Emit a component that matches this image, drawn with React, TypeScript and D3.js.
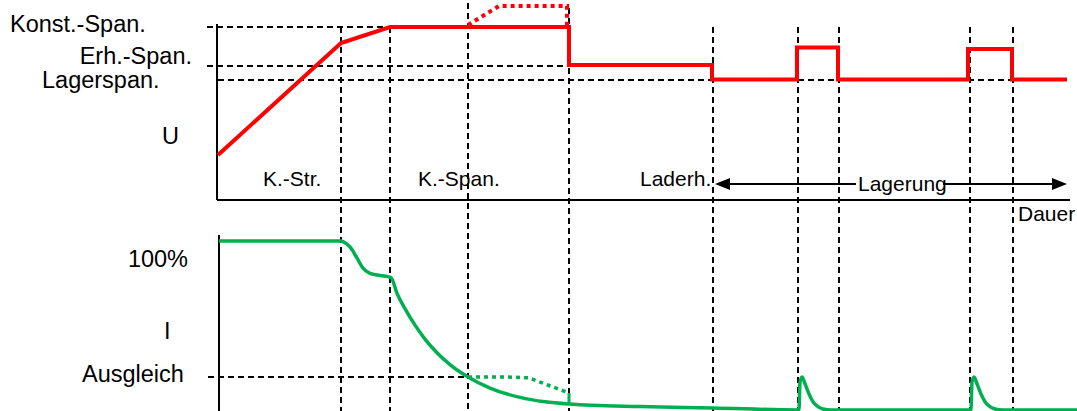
import React from "react";
import * as d3 from "d3";

// ---- data (time in arbitrary units, U and I in relative units) ----
const eventTimes = [124, 173, 251, 352, 496, 581, 622, 753, 796];

const uLevels = { konst: 86.5, erh: 67, lager: 60 };
const iAusgleich = 20;

const uSolidT = [1, 124, 173, 352, 352, 495, 495, 580, 580, 621, 621, 751, 751, 795, 795, 850];
const uSolidV = [22.5, 78.5, 86.5, 86.5, 67.5, 67.5, 60.3, 60.3, 76.3, 76.3, 60.3, 60.3, 75.5, 75.5, 60.3, 60.3];

const uDottedT = [251, 282, 350, 350];
const uDottedV = [87.5, 97, 97, 86.5];

const iSolidT = [2, 124, 126, 133, 140, 146, 153, 163, 174, 180, 188, 198, 208, 220, 233, 251, 273, 303, 328, 352, 423, 496, 581, 582, 583, 585, 588, 592, 596, 600, 606, 614, 753, 754, 755, 757, 760, 764, 768, 772, 778, 786, 860];
const iSolidV = [100, 100, 99.6, 96.5, 90, 84, 81, 79.7, 78.5, 69.2, 60.2, 50.5, 42.3, 34.3, 27.3, 20, 13.5, 8.0, 5.4, 4.1, 2.6, 1.8, 0.6, 0.6, 17, 20, 16, 10, 5.5, 3, 1.2, 0.6, 0.6, 0.6, 17, 20, 16, 10, 5.5, 3, 1.2, 0.6, 0.6];

const iDottedT = [251, 290, 312, 332, 352];
const iDottedV = [20, 20, 19.5, 15, 10.6];
const iTickT = [352, 352];
const iTickV = [4.1, 10.6];

const leftLabels = ["Konst.-Span.", "Erh.-Span.", "Lagerspan.", "U", "100%", "I", "Ausgleich"];
const phaseLabels = ["K.-Str.", "K.-Span.", "Laderh.", "Lagerung", "Dauer"];

const W = 1077, H = 411;
const RED = "#ff0000";
const GREEN = "#00b050";
const FONT = "'Liberation Sans', Arial, Helvetica, sans-serif";

export default function App() {
  const x = d3.scaleLinear().domain([0, 860]).range([217, 1077]);
  const yU = d3.scaleLinear().domain([0, 100]).range([200, 0]);
  const yI = d3.scaleLinear().domain([0, 100]).range([411, 241]);

  const lineU = d3.line<[number, number]>().x(d => x(d[0])).y(d => yU(d[1]));
  const lineI = d3.line<[number, number]>().x(d => x(d[0])).y(d => yI(d[1])).curve(d3.curveMonotoneX);
  const lineIlin = d3.line<[number, number]>().x(d => x(d[0])).y(d => yI(d[1]));

  const zip = (a: number[], b: number[]) => a.map((v, i) => [v, b[i]] as [number, number]);

  const dash = "6,4";
  const kY = yU(uLevels.konst);
  const tops = [kY, kY, 3, 8, kY, kY, kY, kY, kY];

  const fsL = 23.5;
  const fsP = 21;
  const arrowY = 184;
  const axL = x(0);
  return (
    <svg width={W} height={H} style={{ position: "absolute", left: 0, top: 0, background: "#fff" }} fontFamily={FONT}>
      {/* horizontal dashed reference lines */}
      <line x1={207} x2={x(352)} y1={kY} y2={kY} stroke="#000" strokeWidth={2} strokeDasharray={dash} />
      <line x1={207} x2={x(358)} y1={yU(uLevels.erh)} y2={yU(uLevels.erh)} stroke="#000" strokeWidth={2} strokeDasharray={dash} />
      <line x1={218} x2={x(808)} y1={yU(uLevels.lager)} y2={yU(uLevels.lager)} stroke="#000" strokeWidth={2} strokeDasharray={dash} />
      <line x1={208} x2={x(251)} y1={yI(iAusgleich)} y2={yI(iAusgleich)} stroke="#000" strokeWidth={2} strokeDasharray={dash} />

      {/* vertical dashed event lines */}
      {eventTimes.map((t, i) => (
        <line key={i} x1={x(t)} x2={x(t)} y1={tops[i]} y2={H} stroke="#000" strokeWidth={2} strokeDasharray={dash} />
      ))}

      {/* axes */}
      <line x1={axL} x2={axL} y1={24} y2={yU(0)} stroke="#000" strokeWidth={2} />
      <line x1={axL} x2={1070} y1={yU(0)} y2={yU(0)} stroke="#000" strokeWidth={2} />
      <line x1={219} x2={219} y1={235} y2={H} stroke="#000" strokeWidth={2} />

      {/* U curves */}
      <path d={lineU(zip(uDottedT, uDottedV)) || ""} fill="none" stroke={RED} strokeWidth={4} strokeDasharray="4,4" />
      <path d={lineU(zip(uSolidT, uSolidV)) || ""} fill="none" stroke={RED} strokeWidth={4} strokeLinejoin="miter" />

      {/* I curves */}
      <path d={lineIlin(zip(iDottedT, iDottedV)) || ""} fill="none" stroke={GREEN} strokeWidth={3.5} strokeDasharray="4,4" />
      <path d={lineIlin(zip(iTickT, iTickV)) || ""} fill="none" stroke={GREEN} strokeWidth={3} />
      <path d={lineI(zip(iSolidT, iSolidV)) || ""} fill="none" stroke={GREEN} strokeWidth={3.5} />

      {/* arrow Lagerung */}
      <line x1={x(496) + 12} x2={856} y1={arrowY} y2={arrowY} stroke="#000" strokeWidth={2} />
      <line x1={943} x2={1054} y1={arrowY} y2={arrowY} stroke="#000" strokeWidth={2} />
      <path d={`M${x(496) + 2},${arrowY} L${x(496) + 17},${arrowY - 6} L${x(496) + 17},${arrowY + 6} Z`} fill="#000" />
      <path d={`M1067,${arrowY} L1052,${arrowY - 6} L1052,${arrowY + 6} Z`} fill="#000" />

      {/* left labels */}
      <g fontSize={fsL} fill="#000">
        <text x={10} y={32}>{leftLabels[0]}</text>
        <text x={192} y={64} textAnchor="end">{leftLabels[1]}</text>
        <text x={42} y={88}>{leftLabels[2]}</text>
        <text x={162} y={144}>{leftLabels[3]}</text>
        <text x={188} y={267} textAnchor="end">{leftLabels[4]}</text>
        <text x={164} y={339}>{leftLabels[5]}</text>
        <text x={82} y={382}>{leftLabels[6]}</text>
      </g>
      {/* phase labels */}
      <g fontSize={fsP} fill="#000">
        <text x={263} y={186}>{phaseLabels[0]}</text>
        <text x={418} y={186}>{phaseLabels[1]}</text>
        <text x={640} y={186}>{phaseLabels[2]}</text>
        <text x={858} y={191}>{phaseLabels[3]}</text>
        <text x={1018} y={221}>{phaseLabels[4]}</text>
      </g>
    </svg>
  );
}
